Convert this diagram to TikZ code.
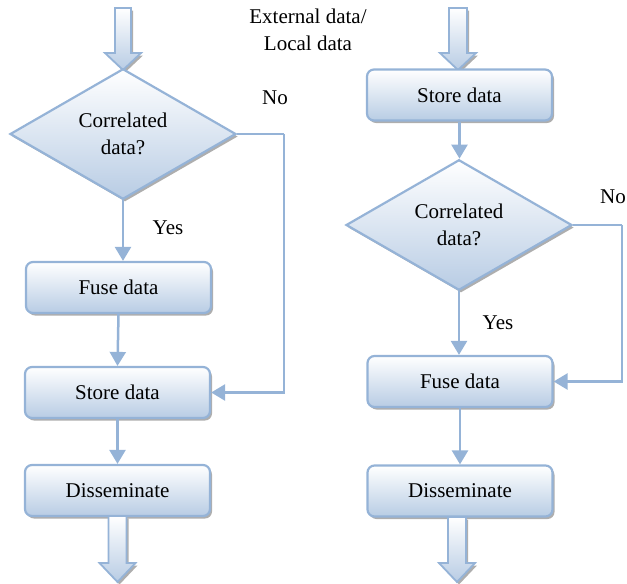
\documentclass[tikz,border=0pt]{standalone}
\usepackage{fontspec}
\setmainfont{Liberation Serif}
\usetikzlibrary{shapes.geometric,arrows.meta,shadows}
\definecolor{lineblue}{RGB}{149,179,215}
\definecolor{fillblue}{RGB}{184,204,228}
\definecolor{shadowgray}{RGB}{140,140,140}
\begin{document}
\begin{tikzpicture}[x=1pt,y=-1pt,
  txt/.style={font=\fontsize{21}{27}\selectfont, inner sep=0pt, align=center},
  stepbox/.style={txt, draw=lineblue, line width=2.2pt, rounded corners=7pt,
    top color=white, bottom color=fillblue, minimum width=185pt, minimum height=51pt,
    drop shadow={shadow xshift=2pt, shadow yshift=-2.5pt, fill=shadowgray, opacity=0.7}},
  decision/.style={txt, diamond, draw=lineblue, line width=2.2pt,
    top color=white, bottom color=fillblue, minimum width=226pt, minimum height=127pt,
    drop shadow={shadow xshift=2pt, shadow yshift=-2.5pt, fill=shadowgray, opacity=0.7}},
  conn/.style={draw=lineblue, line width=2.5pt, -{Triangle[length=14pt,width=16pt]}},
  loopline/.style={draw=lineblue, line width=2.5pt},
  barrow/.style={draw=lineblue, line width=1.8pt, top color=white, bottom color=fillblue},
  barrowshadow/.style={fill=shadowgray, opacity=0.7}
]
\useasboundingbox (0,0) rectangle (627,584);

% ---- left column ----
\fill[barrowshadow, shift={(2,2.5)}] (115,8) -- (131,8) -- (131,53) -- (141,53) -- (123,70) -- (105,53) -- (115,53) -- cycle;
\path[barrow] (115,8) -- (131,8) -- (131,53) -- (141,53) -- (123,70) -- (105,53) -- (115,53) -- cycle;

\node[decision] (dL) at (123,134) {Correlated\\data?};
\node[stepbox] (fuseL) at (118.5,287.5) {Fuse data};
\node[stepbox] (storeL) at (117.5,392.5) {Store data};
\node[stepbox] (dissL) at (117.5,490.5) {Disseminate};

\fill[barrowshadow, shift={(2,2.5)}] (108.5,516) -- (126.5,516) -- (126.5,563) -- (135.5,563) -- (117.5,582) -- (99.5,563) -- (108.5,563) -- cycle;
\path[barrow] (108.5,516) -- (126.5,516) -- (126.5,563) -- (135.5,563) -- (117.5,582) -- (99.5,563) -- (108.5,563) -- cycle;

\draw[conn] (dL.south) -- (dL.south |- fuseL.north);
\draw[conn] (fuseL.south) -- (storeL.north);
\draw[conn] (storeL.south) -- (dissL.north);
\coordinate (cL) at (284,134);
\draw[loopline] (dL.east) -- (cL);
\draw[conn] (cL) |- (storeL.east);

\node[txt] (noL) at (275,98) {No};
\node[txt] (yesL) at (168,228) {Yes};

% ---- right column ----
\node[txt] (ext) at (308,30) {External data/\\Local data};

\fill[barrowshadow, shift={(2,2.5)}] (449,8) -- (467,8) -- (467,53) -- (476,53) -- (458,70) -- (440,53) -- (449,53) -- cycle;
\path[barrow] (449,8) -- (467,8) -- (467,53) -- (476,53) -- (458,70) -- (440,53) -- (449,53) -- cycle;

\node[stepbox] (storeR) at (459.5,95) {Store data};
\node[decision] (dR) at (459,225) {Correlated\\data?};
\node[stepbox] (fuseR) at (460,381.5) {Fuse data};
\node[stepbox] (dissR) at (460,491) {Disseminate};

\fill[barrowshadow, shift={(2,2.5)}] (448,517) -- (466,517) -- (466,563) -- (475,563) -- (457,582) -- (439,563) -- (448,563) -- cycle;
\path[barrow] (448,517) -- (466,517) -- (466,563) -- (475,563) -- (457,582) -- (439,563) -- (448,563) -- cycle;

\draw[conn] (storeR.south) -- (storeR.south |- dR.north);
\draw[conn] (dR.south) -- (dR.south |- fuseR.north);
\draw[conn] (fuseR.south) -- (fuseR.south |- dissR.north);
\coordinate (cR) at (622,225);
\draw[loopline] (dR.east) -- (cR);
\draw[conn] (cR) |- (fuseR.east);

\node[txt, anchor=east] (noR) at (626,197) {No};
\node[txt] (yesR) at (498,323) {Yes};
\end{tikzpicture}
\end{document}
